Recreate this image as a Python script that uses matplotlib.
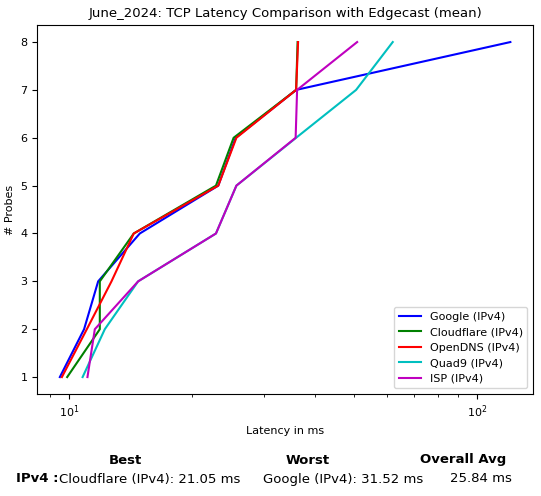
import matplotlib
matplotlib.use("Agg")
import matplotlib.pyplot as plt

# latencias ordenadas (ms) por resolver, una por sonda
probes = [1, 2, 3, 4, 5, 6, 7, 8]
google = [9.49, 10.88, 11.78, 14.9, 23.2, 25.6, 36.0, 120.6]
cloudflare = [9.89, 11.89, 11.89, 14.4, 22.9, 25.3, 36.0, 36.3]
opendns = [9.6, 11.05, 12.7, 14.4, 23.2, 25.7, 36.0, 36.4]
quad9 = [10.79, 12.23, 14.76, 22.9, 25.7, 36.0, 50.5, 62.1]
isp = [11.09, 11.56, 14.76, 22.9, 25.7, 35.9, 36.2, 50.8]

series = [
    ("Google (IPv4)", google, "b"),
    ("Cloudflare (IPv4)", cloudflare, "g"),
    ("OpenDNS (IPv4)", opendns, "r"),
    ("Quad9 (IPv4)", quad9, "c"),
    ("ISP (IPv4)", isp, "m"),
]

best_txt = "Cloudflare (IPv4): 21.05 ms"
worst_txt = "Google (IPv4): 31.52 ms"
avg_txt = "25.84 ms"

fig = plt.figure(figsize=(5.41, 4.96), dpi=100)
ax = fig.add_axes([0.069, 0.206, 0.916, 0.743])

for nombre, vals, color in series:
    ax.plot(vals, probes, color=color, label=nombre, linewidth=1.5)

ax.set_xscale("log")
ax.set_title("June_2024: TCP Latency Comparison with Edgecast (mean)", fontsize=9.5)
ax.set_xlabel("Latency in ms", fontsize=8)
ax.set_ylabel("# Probes", fontsize=8)
ax.tick_params(labelsize=8)
ax.legend(loc="lower right", fontsize=8)

# tabla resumen debajo del gráfico
fs = 9.5
fig.text(125 / 541, 1 - 460 / 496, "Best", ha="center", va="center",
         fontsize=fs, fontweight="bold")
fig.text(308 / 541, 1 - 460 / 496, "Worst", ha="center", va="center",
         fontsize=fs, fontweight="bold")
fig.text(463 / 541, 1 - 460 / 496, "Overall Avg", ha="center", va="center",
         fontsize=fs, fontweight="bold")
fig.text(58 / 541, 1 - 479 / 496, "IPv4 :", ha="right", va="center",
         fontsize=fs, fontweight="bold")
fig.text(150 / 541, 1 - 479 / 496, best_txt, ha="center", va="center", fontsize=fs)
fig.text(343 / 541, 1 - 479 / 496, worst_txt, ha="center", va="center", fontsize=fs)
fig.text(481 / 541, 1 - 479 / 496, avg_txt, ha="center", va="center", fontsize=fs)

fig.savefig("out.png", dpi=100)
